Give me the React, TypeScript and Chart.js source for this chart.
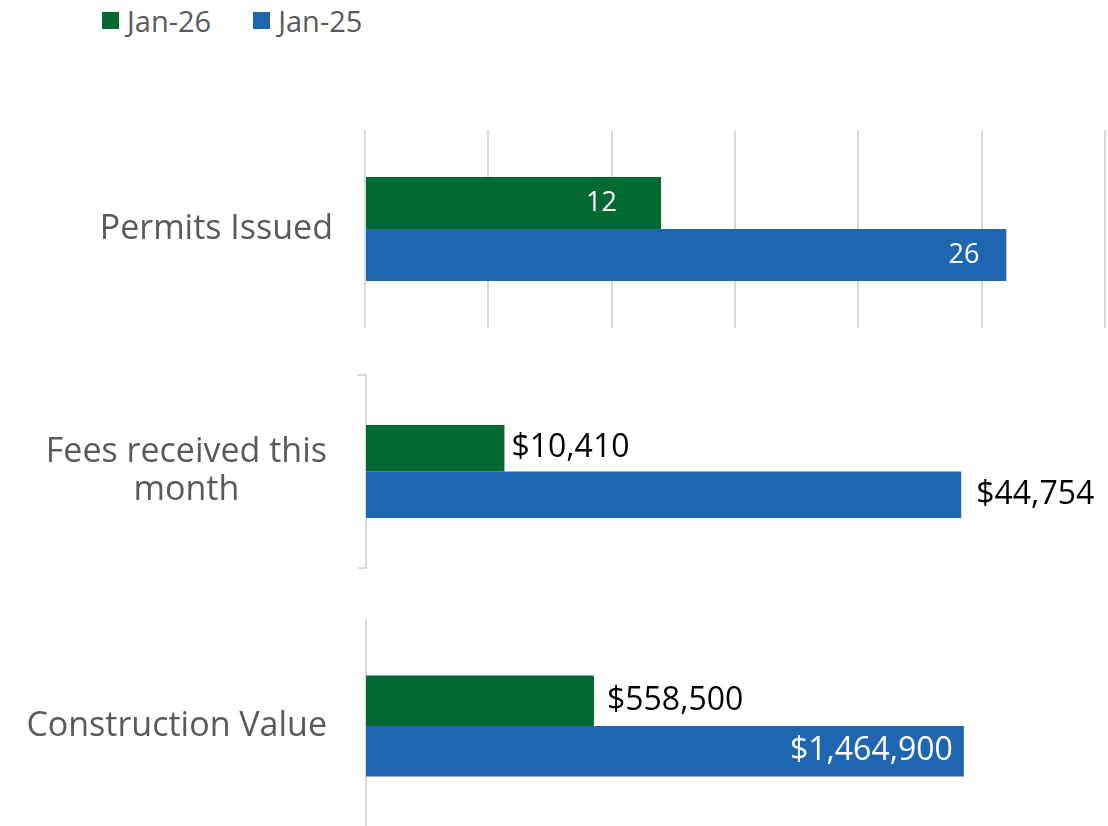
import React, { useEffect, useRef } from "react";
import { Chart, registerables } from "chart.js";
Chart.register(...registerables);

const seriesNames = ["Jan-26", "Jan-25"];
const seriesColors = ["#026A31", "#1F66B1"];

const permitsCategories = ["Permits Issued"];
const permitsJan26 = [12];
const permitsJan25 = [26];
const permitsTicks = [0, 5, 10, 15, 20, 25, 30];

const feesCategories = [["Fees received this", "month"]];
const feesJan26 = [10410];
const feesJan25 = [44754];
const feesMax = 50000;

const constructionCategories = ["Construction Value"];
const constructionJan26 = [558500];
const constructionJan25 = [1464900];
const constructionMax = 1600000;

const LABEL_FONT = "'Open Sans', sans-serif";
const LEGEND_FONT = "'Open Sans', sans-serif";

const money = (v: number) => "$" + v.toLocaleString("en-US");
const plain = (v: number) => String(v);

const valueLabels = {
  id: "valueLabels",
  afterDatasetsDraw(chart: any, _args: any, opts: any) {
    const ctx = chart.ctx;
    chart.data.datasets.forEach((ds: any, di: number) => {
      const cfg = opts.items[di];
      const meta = chart.getDatasetMeta(di);
      meta.data.forEach((bar: any, i: number) => {
        const text = cfg.format(ds.data[i]);
        ctx.save();
        ctx.font = cfg.font;
        ctx.fillStyle = cfg.color;
        ctx.textBaseline = "middle";
        if (cfg.inside) {
          ctx.textAlign = "right";
          ctx.fillText(text, bar.x - cfg.offset, bar.y);
        } else {
          ctx.textAlign = "left";
          ctx.fillText(text, bar.x + cfg.offset, bar.y);
        }
        ctx.restore();
      });
    });
  },
};

function makeConfig(p: any) {
  return {
    type: "bar",
    data: {
      labels: p.labels,
      datasets: [
        { label: seriesNames[0], data: p.a, backgroundColor: seriesColors[0], categoryPercentage: p.cat, barPercentage: 1 },
        { label: seriesNames[1], data: p.b, backgroundColor: seriesColors[1], categoryPercentage: p.cat, barPercentage: 1 },
      ],
    },
    options: {
      indexAxis: "y",
      animation: false,
      responsive: false,
      maintainAspectRatio: false,
      layout: { padding: p.padding },
      plugins: {
        legend: { display: false },
        tooltip: { enabled: false },
        valueLabels: { items: p.items },
      },
      scales: {
        x: p.x,
        y: {
          afterFit: (s: any) => {
            s.width = p.axisWidth;
            s.paddingTop = 0;
            s.paddingBottom = 0;
          },
          ticks: {
            color: "#595959",
            font: { family: LABEL_FONT, size: 34, lineHeight: 1.13 },
            crossAlign: "center",
            padding: p.tickPadding,
          },
          grid: p.yGrid,
          border: p.yBorder,
        },
      },
    },
    plugins: [valueLabels],
  };
}

function ChartBox({ top, height, config }: any) {
  const ref = useRef<HTMLCanvasElement>(null);
  useEffect(() => {
    const chart = new Chart(ref.current as any, config);
    return () => chart.destroy();
  }, []);
  return (
    <canvas
      ref={ref}
      width={1108}
      height={height}
      style={{ position: "absolute", left: 0, top, width: 1108, height }}
    />
  );
}

const valueFont = `32px ${LABEL_FONT}`;
const innerFont = `27px ${LEGEND_FONT}`;

const permitsConfig = makeConfig({
  labels: permitsCategories,
  a: permitsJan26,
  b: permitsJan25,
  cat: 0.525,
  padding: { top: 30, bottom: 22, left: 0, right: 3 },
  axisWidth: 365,
  tickPadding: 32,
  x: {
    min: permitsTicks[0],
    max: permitsTicks[permitsTicks.length - 1],
    afterBuildTicks: (s: any) => {
      s.ticks = permitsTicks.map((v) => ({ value: v }));
    },
    ticks: { display: false },
    grid: { color: "#d9d9d9", lineWidth: 2, drawTicks: false },
    border: { display: false },
  },
  yGrid: { display: false, drawTicks: false },
  yBorder: { display: false },
  items: [
    { inside: true, offset: 44, color: "#ffffff", font: innerFont, format: plain },
    { inside: true, offset: 27, color: "#ffffff", font: innerFont, format: plain },
  ],
});

const feesConfig = makeConfig({
  labels: feesCategories,
  a: feesJan26,
  b: feesJan25,
  cat: 0.482,
  padding: { top: 25, bottom: 22, left: 0, right: 77 },
  axisWidth: 366,
  tickPadding: 30,
  x: { display: false, min: 0, max: feesMax },
  yGrid: { display: true, drawOnChartArea: false, drawTicks: true, tickLength: 9, color: "#d9d9d9", lineWidth: 2, offset: true },
  yBorder: { display: true, color: "#d9d9d9", width: 2 },
  items: [
    { inside: false, offset: 7, color: "#000000", font: valueFont, format: money },
    { inside: false, offset: 15, color: "#000000", font: valueFont, format: money },
  ],
});

const constructionConfig = makeConfig({
  labels: constructionCategories,
  a: constructionJan26,
  b: constructionJan25,
  cat: 0.476,
  padding: { top: 25, bottom: 3, left: 0, right: 89 },
  axisWidth: 366,
  tickPadding: 39,
  x: { display: false, min: 0, max: constructionMax },
  yGrid: { display: false, drawTicks: false },
  yBorder: { display: true, color: "#d9d9d9", width: 2 },
  items: [
    { inside: false, offset: 13, color: "#000000", font: valueFont, format: money },
    { inside: true, offset: 11, color: "#ffffff", font: valueFont, format: money },
  ],
});

export default function App() {
  return (
    <div style={{ position: "fixed", left: 0, top: 0, width: 1108, height: 826, overflow: "hidden", background: "#fff" }}>
      <div style={{ position: "absolute", left: 102, top: 0, height: 40, display: "flex", alignItems: "center", font: `29px ${LEGEND_FONT}`, color: "#595959" }}>
        {seriesNames.map((n, i) => (
          <div key={n} style={{ display: "flex", alignItems: "center", marginRight: i === 0 ? 42 : 0 }}>
            <span style={{ display: "inline-block", width: 17, height: 17, background: seriesColors[i], marginRight: 8 }} />
            <span>{n}</span>
          </div>
        ))}
      </div>
      <ChartBox top={100} height={250} config={permitsConfig} />
      <ChartBox top={350} height={240} config={feesConfig} />
      <ChartBox top={595} height={240} config={constructionConfig} />
    </div>
  );
}
